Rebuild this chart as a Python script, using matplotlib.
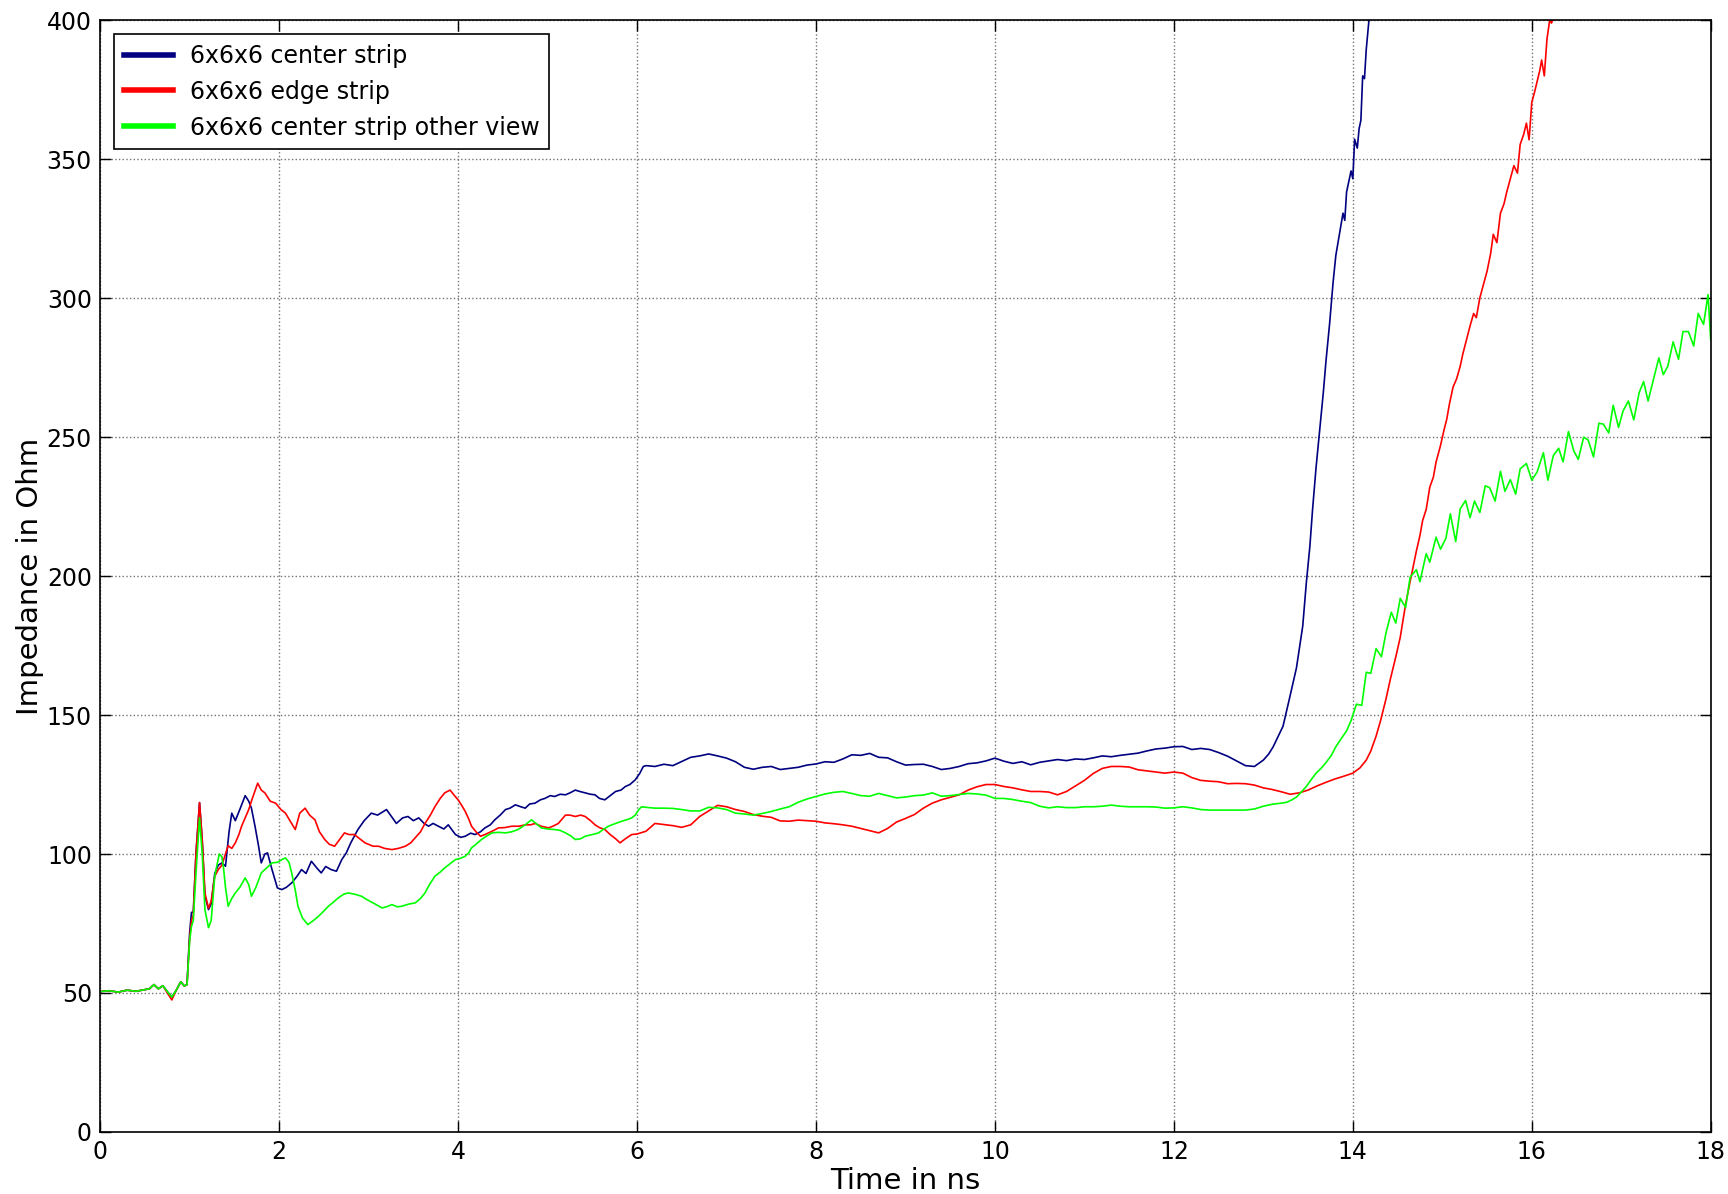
import matplotlib
matplotlib.use('Agg')
import matplotlib.pyplot as plt

# ---- data (time in ns, impedance in Ohm) ----

# shared time grid for the flat middle part of all three curves
t_mid = [6.1, 6.2, 6.3, 6.4, 6.5, 6.6, 6.7, 6.8, 6.9, 7.0,
         7.1, 7.2, 7.3, 7.4, 7.5, 7.6, 7.7, 7.8, 7.9, 8.0,
         8.1, 8.2, 8.3, 8.4, 8.5, 8.6, 8.7, 8.8, 8.9, 9.0,
         9.1, 9.2, 9.3, 9.4, 9.5, 9.6, 9.7, 9.8, 9.9, 10.0,
         10.1, 10.2, 10.3, 10.4, 10.5, 10.6, 10.7, 10.8, 10.9, 11.0,
         11.1, 11.2, 11.3, 11.4, 11.5, 11.6, 11.7, 11.8, 11.9, 12.0,
         12.1, 12.2, 12.3, 12.4, 12.5, 12.6, 12.7, 12.8, 12.9, 13.0]

# 6x6x6 center strip
t_center_a = [0.0, 0.1, 0.2, 0.3, 0.4, 0.5, 0.55, 0.6, 0.65, 0.7, 0.75, 0.8, 0.85, 0.9, 0.94, 0.97,
              1.0, 1.02, 1.04, 1.07, 1.11, 1.14, 1.17, 1.21, 1.24, 1.28, 1.32, 1.36, 1.40, 1.44,
              1.47, 1.51, 1.56, 1.62, 1.66, 1.69, 1.73, 1.77, 1.80, 1.84, 1.87, 1.92, 1.98, 2.03,
              2.08, 2.14, 2.20, 2.25, 2.30, 2.36, 2.42, 2.47, 2.52, 2.58, 2.64, 2.70, 2.75, 2.80,
              2.88, 2.95, 3.03, 3.10, 3.20, 3.31, 3.38, 3.44, 3.50, 3.56, 3.62, 3.67, 3.72, 3.78,
              3.84, 3.89, 3.97, 4.03, 4.08, 4.14, 4.19, 4.25, 4.30, 4.36, 4.41, 4.47, 4.53, 4.58,
              4.64, 4.70, 4.75, 4.80, 4.86, 4.92, 4.97, 5.03, 5.08, 5.14, 5.20, 5.25, 5.31, 5.36,
              5.42, 5.48, 5.53, 5.58, 5.64, 5.70, 5.76, 5.82, 5.87, 5.92, 5.98, 6.03, 6.07]
z_center_a = [50.5, 50.8, 50.3, 51.0, 50.6, 51.2, 51.5, 53.0, 51.5, 52.6, 50.5, 48.5, 51.0, 54.0, 52.5, 53.0,
              72.0, 79.0, 79.0, 100.0, 118.5, 105.0, 85.0, 80.0, 82.0, 93.0, 96.0, 96.8, 95.6, 108.0,
              114.7, 112.0, 116.0, 121.0, 119.0, 116.5, 110.0, 102.8, 96.8, 100.0, 100.4, 94.4, 87.8, 87.2,
              88.0, 89.6, 92.0, 94.4, 93.0, 97.4, 95.0, 93.2, 95.5, 94.4, 93.8, 98.0, 100.4, 104.0,
              108.8, 112.0, 114.7, 114.0, 116.0, 111.0, 113.0, 113.5, 112.0, 113.0, 111.0, 110.0, 111.0, 110.0,
              109.0, 110.5, 107.0, 106.0, 106.4, 107.5, 107.0, 108.0, 109.4, 110.5, 112.3, 114.0, 116.0, 116.5,
              117.7, 117.0, 116.5, 118.0, 118.3, 119.5, 120.0, 121.0, 120.7, 121.5, 121.3, 122.0, 123.0, 122.5,
              122.0, 121.5, 121.3, 120.0, 119.5, 121.0, 122.5, 123.0, 124.3, 125.0, 126.7, 129.0, 131.5]
z_center_mid = [131.8, 131.5, 132.3, 131.8, 133.3, 134.8, 135.3, 136.0, 135.3, 134.5,
                133.2, 131.2, 130.5, 131.2, 131.5, 130.4, 130.8, 131.2, 132.0, 132.4,
                133.2, 133.0, 134.2, 135.7, 135.5, 136.2, 134.8, 134.6, 133.2, 132.0,
                132.2, 132.3, 131.5, 130.4, 130.8, 131.5, 132.5, 132.8, 133.5, 134.5,
                133.4, 132.6, 133.2, 132.1, 133.0, 133.5, 134.0, 133.6, 134.2, 134.0,
                134.6, 135.3, 135.0, 135.5, 135.9, 136.3, 137.1, 137.8, 138.1, 138.6,
                138.7, 137.6, 138.0, 137.6, 136.5, 135.2, 133.5, 131.8, 131.5, 133.8]
t_center_b = [13.06, 13.11, 13.16, 13.22, 13.29, 13.37, 13.44, 13.48, 13.52, 13.55, 13.59, 13.63,
              13.67, 13.70, 13.74, 13.78, 13.81, 13.85, 13.89, 13.91, 13.93, 13.98, 14.00, 14.02,
              14.05, 14.07, 14.09, 14.11, 14.13, 14.15, 14.18, 14.20]
z_center_b = [136.0, 138.6, 142.0, 146.0, 155.7, 167.0, 182.0, 197.5, 210.8, 224.0, 239.4, 252.7,
              266.0, 277.4, 290.7, 305.9, 315.4, 323.0, 330.6, 328.0, 338.2, 345.8, 343.0, 357.2,
              354.0, 361.0, 364.0, 380.0, 379.0, 389.5, 400.0, 410.0]

# 6x6x6 edge strip
t_edge_a = [0.0, 0.1, 0.2, 0.3, 0.4, 0.5, 0.55, 0.6, 0.65, 0.7, 0.75, 0.8, 0.85, 0.9, 0.94, 0.97,
            1.0, 1.02, 1.04, 1.07, 1.11, 1.14, 1.17, 1.21, 1.24, 1.28, 1.32,
            1.36, 1.40, 1.43, 1.47, 1.51, 1.55, 1.58, 1.62, 1.66, 1.70, 1.76, 1.80, 1.84, 1.90,
            1.96, 2.02, 2.07, 2.12, 2.18, 2.23, 2.29, 2.34, 2.40, 2.45, 2.51, 2.56, 2.62, 2.67,
            2.73, 2.78, 2.84, 2.90, 2.96, 3.05, 3.11, 3.18, 3.26, 3.33, 3.41, 3.47, 3.52, 3.58,
            3.63, 3.69, 3.74, 3.80, 3.85, 3.91, 3.96, 4.00, 4.04, 4.08, 4.12, 4.15, 4.20, 4.25,
            4.30, 4.34, 4.40, 4.45, 4.52, 4.60, 4.68, 4.75, 4.81, 4.86, 4.93, 5.01, 5.06, 5.12,
            5.16, 5.20, 5.25, 5.31, 5.37, 5.42, 5.48, 5.53, 5.58, 5.64, 5.70, 5.76, 5.81, 5.87,
            5.94, 6.00]
z_edge_a = [50.5, 50.8, 50.3, 51.0, 50.6, 51.2, 51.5, 53.0, 51.5, 52.6, 50.0, 47.5, 51.0, 54.0, 52.5, 53.0,
            70.0, 76.0, 78.0, 100.0, 118.5, 105.0, 86.0, 80.5, 83.0, 92.0, 94.4,
            96.0, 100.0, 103.0, 102.0, 104.0, 107.0, 110.0, 113.0, 116.0, 120.0, 125.5, 123.0, 122.0, 119.0,
            118.3, 116.0, 114.7, 112.0, 108.8, 114.7, 116.5, 114.0, 112.3, 108.0, 105.2, 103.5, 102.8, 105.0,
            107.6, 107.0, 107.0, 105.5, 104.0, 102.8, 102.8, 102.0, 101.6, 102.0, 102.8, 104.0, 105.8, 108.0,
            111.0, 114.0, 117.0, 120.0, 122.0, 123.0, 121.0, 119.5, 117.5, 115.3, 112.5, 110.0, 108.0, 106.4,
            107.0, 107.6, 108.5, 109.4, 109.5, 110.0, 110.0, 110.5, 110.5, 111.0, 110.0, 109.4, 110.0, 111.0,
            112.5, 114.0, 114.0, 113.5, 114.0, 113.5, 112.0, 110.5, 109.5, 108.8, 107.0, 105.5, 104.0, 105.5,
            107.0, 107.2]
z_edge_mid = [108.2, 111.0, 110.6, 110.2, 109.6, 110.5, 113.5, 115.5, 117.5, 117.0,
              116.0, 115.3, 114.2, 113.6, 113.2, 111.9, 111.8, 112.2, 112.0, 111.8,
              111.2, 110.9, 110.5, 110.0, 109.2, 108.4, 107.6, 109.2, 111.5, 112.8,
              114.2, 116.5, 118.3, 119.5, 120.4, 121.3, 123.0, 124.2, 125.0, 125.0,
              124.3, 123.8, 123.1, 122.5, 122.5, 122.3, 121.3, 122.5, 124.5, 126.5,
              129.0, 130.8, 131.5, 131.5, 131.3, 130.3, 129.9, 129.5, 129.1, 129.5,
              129.1, 127.5, 126.5, 126.2, 126.0, 125.3, 125.4, 125.3, 124.8, 123.8]
t_edge_b = [13.1, 13.2, 13.3, 13.4, 13.5, 13.6, 13.7, 13.8, 13.9, 14.0, 14.08, 14.15, 14.2, 14.26,
            14.31, 14.37, 14.42, 14.48, 14.53, 14.59, 14.64, 14.71, 14.75, 14.78, 14.82, 14.86,
            14.90, 14.93, 14.98, 15.02, 15.05, 15.08, 15.12, 15.16, 15.20, 15.23, 15.27, 15.31,
            15.35, 15.38, 15.42, 15.46, 15.50, 15.54, 15.57, 15.61, 15.65, 15.69, 15.72, 15.76,
            15.80, 15.84, 15.87, 15.91, 15.94, 15.97, 16.00, 16.03, 16.06, 16.09, 16.11, 16.14,
            16.17, 16.20, 16.22, 16.26, 16.30]
z_edge_b = [123.2, 122.4, 121.5, 122.0, 123.0, 124.5, 125.8, 127.0, 128.0, 129.1, 131.0, 133.8, 137.0, 142.4,
            148.0, 155.7, 163.0, 170.9, 178.0, 189.9, 198.0, 209.0, 214.6, 220.0, 224.0, 232.0,
            235.6, 241.0, 247.0, 252.7, 256.5, 262.0, 268.0, 271.0, 275.5, 280.0, 285.0, 290.0,
            294.5, 293.0, 300.2, 305.0, 309.7, 316.0, 323.0, 320.0, 330.6, 334.0, 338.2, 343.0,
            347.7, 345.0, 355.3, 359.0, 363.0, 357.0, 370.5, 374.0, 378.0, 382.0, 385.7, 380.0,
            393.3, 400.0, 399.0, 402.0, 410.0]

# 6x6x6 center strip other view
t_other_a = [0.0, 0.1, 0.2, 0.3, 0.4, 0.5, 0.55, 0.6, 0.65, 0.7, 0.75, 0.8, 0.85, 0.9, 0.94, 0.97,
             1.0, 1.02, 1.04,
             1.07, 1.11, 1.14, 1.17, 1.21, 1.24, 1.28, 1.33, 1.36, 1.38, 1.40, 1.43, 1.47, 1.51,
             1.56, 1.62, 1.66, 1.69, 1.74, 1.80, 1.86, 1.92, 1.98, 2.03, 2.07, 2.11, 2.14, 2.18,
             2.21, 2.26, 2.32, 2.38, 2.44, 2.50, 2.55, 2.60, 2.66, 2.72, 2.77, 2.85, 2.92, 2.98,
             3.05, 3.15, 3.20, 3.26, 3.32, 3.37, 3.45, 3.52, 3.58, 3.63, 3.68, 3.74, 3.80, 3.85,
             3.91, 3.97, 4.03, 4.08, 4.12, 4.15, 4.20, 4.26, 4.32, 4.38, 4.45, 4.53, 4.60, 4.67,
             4.75, 4.82, 4.87, 4.93, 5.00, 5.08, 5.14, 5.20, 5.26, 5.31, 5.37, 5.42, 5.50, 5.57,
             5.62, 5.68, 5.76, 5.83, 5.90, 5.94, 5.98, 6.02, 6.05]
z_other_a = [50.5, 50.8, 50.3, 51.0, 50.6, 51.2, 51.5, 53.0, 51.5, 52.6, 50.5, 48.5, 51.0, 54.0, 52.5, 53.0,
             69.0, 74.0, 76.0,
             93.0, 113.0, 100.0, 80.0, 73.5, 76.0, 92.0, 100.0, 99.0, 94.4, 88.0, 81.2, 84.0, 86.0,
             88.0, 91.4, 89.0, 84.8, 88.0, 93.2, 95.0, 96.8, 97.0, 98.0, 98.6, 97.0, 93.2, 87.0,
             81.2, 77.0, 74.6, 76.0, 77.6, 79.5, 81.2, 82.5, 84.2, 85.5, 86.0, 85.5, 84.8, 83.6,
             82.4, 80.6, 81.0, 81.8, 81.0, 81.2, 82.0, 82.4, 84.0, 86.0, 89.0, 92.0, 93.5, 95.0,
             96.5, 98.0, 98.5, 99.2, 100.5, 102.2, 103.5, 105.2, 106.5, 107.6, 107.8, 107.6, 108.0, 108.8,
             110.5, 112.3, 111.0, 109.4, 109.0, 108.8, 108.5, 107.6, 106.5, 105.2, 105.5, 106.4, 107.0, 107.6,
             108.8, 110.0, 111.0, 111.8, 112.5, 113.0, 114.0, 116.0, 117.0]
z_other_mid = [116.8, 116.5, 116.5, 116.4, 116.0, 115.5, 115.5, 116.8, 116.6, 116.0,
               114.7, 114.4, 114.0, 114.6, 115.3, 116.2, 117.0, 118.6, 119.8, 120.7,
               121.6, 122.2, 122.5, 121.8, 121.0, 120.8, 121.8, 121.0, 120.2, 120.5,
               121.0, 121.2, 122.0, 120.8, 121.0, 121.4, 121.8, 121.6, 121.2, 120.0,
               120.0, 119.6, 119.0, 118.5, 117.2, 116.6, 117.0, 116.7, 116.7, 117.0,
               117.0, 117.2, 117.6, 117.2, 117.0, 117.0, 117.0, 116.9, 116.5, 116.6,
               117.0, 116.6, 116.0, 115.8, 115.8, 115.8, 115.8, 115.8, 116.2, 117.2]
t_other_b = [13.1, 13.2, 13.26, 13.32, 13.37, 13.43, 13.48, 13.54, 13.59, 13.65, 13.70, 13.76, 13.81,
             13.87, 13.93, 13.98, 14.04, 14.10, 14.15, 14.20, 14.26, 14.32, 14.37, 14.43, 14.48,
             14.53, 14.59, 14.64, 14.71, 14.75, 14.82, 14.86, 14.93, 14.98, 15.04, 15.09, 15.15,
             15.20, 15.26, 15.31, 15.36, 15.42, 15.48, 15.53, 15.59, 15.65, 15.70, 15.76, 15.82,
             15.87, 15.94, 16.00, 16.06, 16.13, 16.18, 16.24, 16.30, 16.35, 16.41, 16.47, 16.52,
             16.58, 16.63, 16.69, 16.75, 16.80, 16.86, 16.91, 16.97, 17.02, 17.08, 17.14, 17.20,
             17.25, 17.30, 17.36, 17.42, 17.47, 17.52, 17.58, 17.64, 17.69, 17.75, 17.81, 17.86,
             17.92, 17.97, 18.00]
z_other_b = [117.9, 118.3, 118.6, 119.5, 120.5, 122.5, 124.3, 127.0, 129.1, 131.0, 132.9, 135.5, 138.6,
             141.5, 144.3, 148.0,
             153.9, 153.5, 165.4, 165.0, 173.9, 171.0, 179.5, 187.0, 183.1, 192.0,
             188.7, 199.6, 202.3, 198.0, 208.1, 205.0, 214.0, 209.7, 213.6, 222.4,
             212.4, 224.2, 227.2, 221.0, 227.0, 222.9, 232.5, 231.8, 227.0, 237.7,
             230.5, 234.7, 229.5, 238.6, 240.5, 234.5, 237.5, 244.4, 234.5, 243.3,
             246.0, 241.1, 252.0, 245.0, 242.0, 250.0, 249.0, 242.9, 255.0, 254.7,
             251.5, 261.5, 253.5, 259.4, 263.0, 256.2, 266.0, 270.0, 263.0, 270.8,
             278.5, 272.5, 275.5, 284.3, 278.0, 288.0, 288.0, 282.8, 294.5, 290.6,
             301.3, 285.0]

labels = ['6x6x6 center strip', '6x6x6 edge strip', '6x6x6 center strip other view']
colors = ['#000080', '#ff0000', '#00ff00']

x_ticks = [0, 2, 4, 6, 8, 10, 12, 14, 16, 18]
y_ticks = [0, 50, 100, 150, 200, 250, 300, 350, 400]


fig = plt.figure(figsize=(17.28, 11.94), dpi=100)
ax = fig.add_axes([0.058, 0.052, 0.932, 0.931])

series = [
    (t_center_a + t_mid + t_center_b, z_center_a + z_center_mid + z_center_b),
    (t_edge_a + t_mid + t_edge_b, z_edge_a + z_edge_mid + z_edge_b),
    (t_other_a + t_mid + t_other_b, z_other_a + z_other_mid + z_other_b),
]
for (t, z), lab, col in zip(series, labels, colors):
    ax.plot(t, z, color=col, linewidth=1.2, label=lab)

ax.set_xlim(0, 18)
ax.set_ylim(0, 400)
ax.set_xticks(x_ticks)
ax.set_yticks(y_ticks)
ax.grid(True, linestyle=':', color='0.45', linewidth=1.0)
ax.tick_params(direction='in', top=True, right=True, length=8, width=1,
               labelsize=17, pad=6)
for sp in ax.spines.values():
    sp.set_linewidth(1.2)

ax.set_xlabel('Time in ns', fontsize=21, labelpad=2)
ax.set_ylabel('Impedance in Ohm', fontsize=21, labelpad=2)

leg = ax.legend(loc='upper left', fontsize=17, fancybox=False, framealpha=1,
                edgecolor='black', handlelength=2.1, handletextpad=0.7,
                borderaxespad=0.6)
leg.get_frame().set_linewidth(1.2)
for line in leg.get_lines():
    line.set_linewidth(4)

fig.savefig('out.png', dpi=100)
